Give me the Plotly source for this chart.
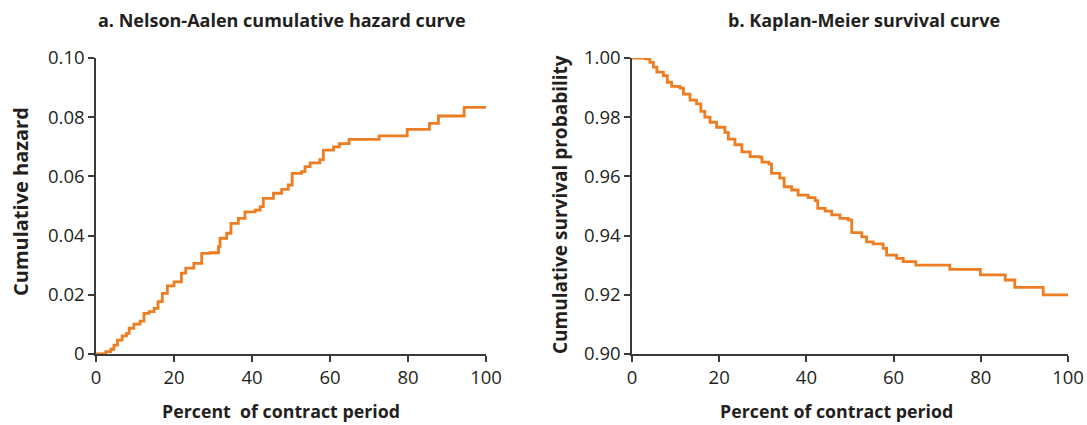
import plotly.graph_objects as go

# Nelson-Aalen cumulative hazard (step points: percent of contract period, hazard)
na_pct = [0, 2.5, 3.8, 4.6, 5.5, 6.7, 7.8, 8.5, 9.7, 11.3, 12.3, 13.6, 14.9, 15.9, 17.0,
          18.3, 20.0, 21.9, 23.0, 25.1, 27.1, 29.2, 31.4, 31.8, 33.5, 34.6, 36.5, 38.2,
          40.8, 42.1, 42.9, 45.5, 47.6, 49.3, 50.3, 52.7, 53.6, 54.9, 57.4, 58.3, 60.9,
          62.4, 64.9, 72.6, 79.8, 85.5, 87.8, 94.4, 100]
na_hazard = [0, 0.0008, 0.0016, 0.0030, 0.0047, 0.0061, 0.0070, 0.0087, 0.0101, 0.0111,
             0.0137, 0.0143, 0.0154, 0.0177, 0.0205, 0.0230, 0.0244, 0.0273, 0.0290,
             0.0306, 0.0340, 0.0342, 0.0363, 0.0391, 0.0408, 0.0441, 0.0458, 0.0480,
             0.0486, 0.0498, 0.0526, 0.0543, 0.0556, 0.0571, 0.0610, 0.0616, 0.0633,
             0.0646, 0.0657, 0.0689, 0.0700, 0.0711, 0.0725, 0.0737, 0.0759, 0.0779,
             0.0804, 0.0833, 0.0833]

# Kaplan-Meier survival (step points: percent of contract period, survival)
km_pct = [0, 3.0, 4.1, 4.9, 5.7, 7.2, 8.1, 9.1, 11.0, 11.8, 13.3, 14.8, 15.8, 16.7, 17.9,
          19.4, 21.3, 22.1, 23.6, 25.2, 27.1, 29.4, 29.8, 31.4, 32.0, 33.9, 34.9, 36.6,
          38.1, 40.4, 42.0, 42.6, 44.3, 45.8, 47.7, 49.6, 50.4, 52.7, 53.8, 55.3, 57.6,
          58.4, 60.7, 62.2, 65.1, 72.9, 79.9, 85.6, 87.8, 94.3, 100]
km_surv = [1.0, 0.9997, 0.9985, 0.9969, 0.9952, 0.9940, 0.9918, 0.9904, 0.9898, 0.9878,
           0.9858, 0.9845, 0.9820, 0.9800, 0.9783, 0.9766, 0.9749, 0.9726, 0.9707, 0.9683,
           0.9667, 0.9664, 0.9648, 0.9642, 0.9610, 0.9594, 0.9565, 0.9554, 0.9537, 0.9528,
           0.9518, 0.9492, 0.9483, 0.9470, 0.9458, 0.9453, 0.9410, 0.9396, 0.9379, 0.9372,
           0.9357, 0.9334, 0.9323, 0.9312, 0.9300, 0.9286, 0.9267, 0.9250, 0.9225, 0.9200,
           0.9200]

x_ticks = [0, 20, 40, 60, 80, 100]
haz_ticks = [0, 0.02, 0.04, 0.06, 0.08, 0.10]
haz_labels = ["0", "0.02", "0.04", "0.06", "0.08", "0.10"]
surv_ticks = [0.90, 0.92, 0.94, 0.96, 0.98, 1.00]
surv_labels = ["0.90", "0.92", "0.94", "0.96", "0.98", "1.00"]

ORANGE = "#ee7d22"
INK = "#231f20"
FONT = "Open Sans"

fig = go.Figure()
fig.add_trace(go.Scatter(x=na_pct, y=na_hazard, mode="lines", line_shape="hv",
                         line=dict(color=ORANGE, width=2.8), xaxis="x", yaxis="y",
                         showlegend=False, cliponaxis=False))
fig.add_trace(go.Scatter(x=km_pct, y=km_surv, mode="lines", line_shape="hv",
                         line=dict(color=ORANGE, width=2.8), xaxis="x2", yaxis="y2",
                         showlegend=False, cliponaxis=False))

W, H = 1087, 425
y_bot, y_top = 1 - 354 / H, 1 - 58 / H

axis_common = dict(showline=True, linecolor="#3a3a3a", linewidth=1.5, ticks="outside",
                   ticklen=6, tickwidth=1.5, tickcolor="#3a3a3a", showgrid=False,
                   zeroline=False, automargin=False,
                   tickfont=dict(family=FONT, size=18.5, color=INK))

fig.update_layout(
    template="none",
    width=W, height=H, margin=dict(l=0, r=0, t=0, b=0, pad=0),
    paper_bgcolor="white", plot_bgcolor="white",
    xaxis=dict(domain=[96 / W, 486 / W], range=[0, 100], tickvals=x_ticks,
               anchor="y", **axis_common),
    yaxis=dict(domain=[y_bot, y_top], range=[0, 0.10], tickvals=haz_ticks,
               ticktext=haz_labels, anchor="x", **axis_common),
    xaxis2=dict(domain=[632 / W, 1068 / W], range=[0, 100], tickvals=x_ticks,
                anchor="y2", **axis_common),
    yaxis2=dict(domain=[y_bot, y_top], range=[0.90, 1.00], tickvals=surv_ticks,
                ticktext=surv_labels, anchor="x2", **axis_common),
)


def font(size):
    return dict(family=FONT, size=size, color=INK)


def note(text, x, y, size, angle=0):
    fig.add_annotation(text=text, x=x / W, y=1 - y / H, xref="paper", yref="paper",
                       showarrow=False, font=font(size), textangle=angle,
                       xanchor="center", yanchor="middle")


note("<b>a. Nelson-Aalen cumulative hazard curve</b>", 282, 20, 18)
note("<b>b. Kaplan-Meier survival curve</b>", 864, 20, 18)
note("<b>Percent\u00a0 of contract period</b>", 281, 411, 17.8)
note("<b>Percent of contract period</b>", 836, 411, 17.8)
note("<b>Cumulative hazard</b>", 20, 202, 20, angle=-90)
note("<b>Cumulative survival probability</b>", 560, 205, 19, angle=-90)

fig.write_html("out.html")
